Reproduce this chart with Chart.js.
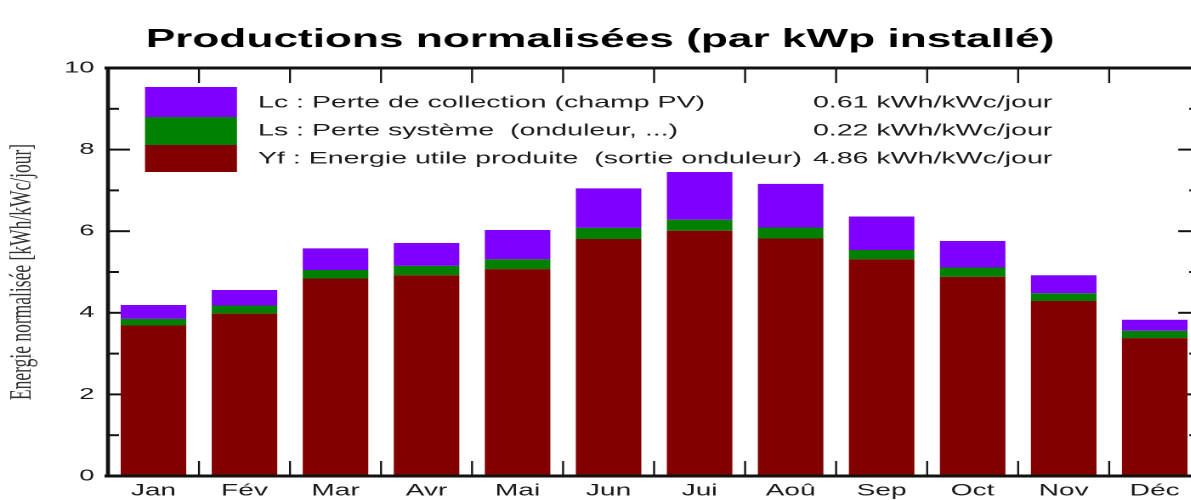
<!DOCTYPE html>
<html><head><meta charset="utf-8">
<script src="https://cdn.jsdelivr.net/npm/chart.js@4.4.1/dist/chart.umd.min.js"></script>
<style>
html,body{margin:0;padding:0;background:#fff;overflow:hidden;width:1191px;height:500px;}
#wrap{position:absolute;left:0;top:0;width:710px;height:500px;transform:scaleX(1.7);transform-origin:0 0;}
</style></head><body>
<div id="wrap"><canvas id="c" width="710" height="500"></canvas></div>
<script>
const months = ['Jan','Fév','Mar','Avr','Mai','Jun','Jui','Aoû','Sep','Oct','Nov','Déc'];
const yfValues = [3.69,3.98,4.84,4.92,5.07,5.81,6.01,5.82,5.31,4.88,4.29,3.38];
const lsValues = [0.16,0.20,0.21,0.23,0.24,0.27,0.27,0.27,0.23,0.23,0.19,0.18];
const lcValues = [0.34,0.38,0.53,0.56,0.72,0.97,1.17,1.07,0.82,0.65,0.44,0.27];
const yTickValues = [0,2,4,6,8,10];
const yMinorTickValues = [1,3,5,7,9];
const legendLabels = ['Lc : Perte de collection (champ PV)','Ls : Perte système  (onduleur, ...)','Yf : Energie utile produite  (sortie onduleur)'];
const legendAverages = ['0.61 kWh/kWc/jour','0.22 kWh/kWc/jour','4.86 kWh/kWc/jour'];
const chartTitle = 'Productions normalisées (par kWp installé)';
const yAxisTitle = 'Energie normalisée [kWh/kWc/jour]';

const SX = 1.7;
const SANS = '"Liberation Sans", Arial, Helvetica, sans-serif';
const COL_YF = '#820000', COL_LS = '#008000', COL_LC = '#8000ff';

function seg(ctx,x1,y1,x2,y2){ctx.beginPath();ctx.moveTo(x1,y1);ctx.lineTo(x2,y2);ctx.stroke();}

const pvPlugin = {
  id:'pvFrame',
  beforeDatasetsDraw(chart){
    const {ctx, chartArea:a, scales:{x,y}} = chart;
    ctx.save();
    ctx.strokeStyle = '#111';
    ctx.lineWidth = 2/SX;
    for(let i=1;i<months.length;i++){
      const px = (x.getPixelForValue(i-1)+x.getPixelForValue(i))/2;
      seg(ctx,px,a.top,px,a.top+15);
      seg(ctx,px,a.bottom,px,a.bottom-15);
    }
    ctx.lineWidth = 2;
    yTickValues.forEach(v=>{const py=y.getPixelForValue(v);seg(ctx,a.left,py,a.left+22/SX,py);seg(ctx,a.right,py,a.right-22/SX,py);});
    yMinorTickValues.forEach(v=>{const py=y.getPixelForValue(v);seg(ctx,a.left,py,a.left+11/SX,py);seg(ctx,a.right,py,a.right-11/SX,py);});
    ctx.restore();
  },
  afterDatasetsDraw(chart){
    const {ctx, chartArea:a} = chart;
    ctx.save();
    ctx.strokeStyle = '#111';
    ctx.lineWidth = 3;
    seg(ctx,a.left-2,a.top,a.right+2,a.top);
    seg(ctx,a.left-2,a.bottom,a.right+2,a.bottom);
    ctx.lineWidth = 4/SX;
    seg(ctx,a.left,a.top,a.left,a.bottom);
    seg(ctx,a.right,a.top,a.right,a.bottom);
    // legend
    const lx = a.left + 37/SX, lw = 92/SX;
    const cols = [COL_LC, COL_LS, COL_YF];
    const tops = [87,117,145,172];
    cols.forEach((c,i)=>{ctx.fillStyle=c;ctx.fillRect(lx,tops[i],lw,tops[i+1]-tops[i]);});
    ctx.fillStyle = '#1a1a1a';
    ctx.font = '16.8px '+SANS;
    ctx.textBaseline = 'middle';
    ctx.textAlign = 'left';
    const rows = [103,131,159];
    legendLabels.forEach((t,i)=>ctx.fillText(t, a.left+150/SX, rows[i]));
    legendAverages.forEach((t,i)=>ctx.fillText(t, a.left+705/SX, rows[i]));
    ctx.restore();
  }
};

new Chart(document.getElementById('c'),{
  type:'bar',
  data:{
    labels: months,
    datasets:[
      {label:'Yf', data:yfValues, backgroundColor:COL_YF, barPercentage:0.72, categoryPercentage:1},
      {label:'Ls', data:lsValues, backgroundColor:COL_LS, barPercentage:0.72, categoryPercentage:1},
      {label:'Lc', data:lcValues, backgroundColor:COL_LC, barPercentage:0.72, categoryPercentage:1}
    ]
  },
  options:{
    responsive:false, devicePixelRatio:2, animation:false,
    layout:{padding:{left:0,right:4,top:0,bottom:0}},
    plugins:{
      legend:{display:false}, tooltip:{enabled:false},
      title:{display:true, text:chartTitle, color:'#000', font:{family:SANS, size:26, weight:'bold', lineHeight:1.2}, padding:{top:24,bottom:12.8}}
    },
    scales:{
      x:{stacked:true, grid:{display:false, drawTicks:false}, border:{display:false},
         ticks:{color:'#1a1a1a', font:{family:SANS,size:16.5}, padding:5, maxRotation:0, autoSkip:false},
         afterFit(s){s.height=24;}},
      y:{stacked:true, min:0, max:10,
         afterBuildTicks(s){s.ticks = yTickValues.map(v=>({value:v}));},
         grid:{display:false, drawTicks:false}, border:{display:false},
         ticks:{color:'#1a1a1a', font:{family:SANS,size:16}, padding:8},
         title:{display:true, text:yAxisTitle, color:'#333', font:{family:'"Liberation Serif", "Times New Roman", serif', size:17.5}, padding:{top:3,bottom:0}},
         afterFit(s){s.width=63.5;}}
    }
  },
  plugins:[pvPlugin]
});
</script>
</body></html>
